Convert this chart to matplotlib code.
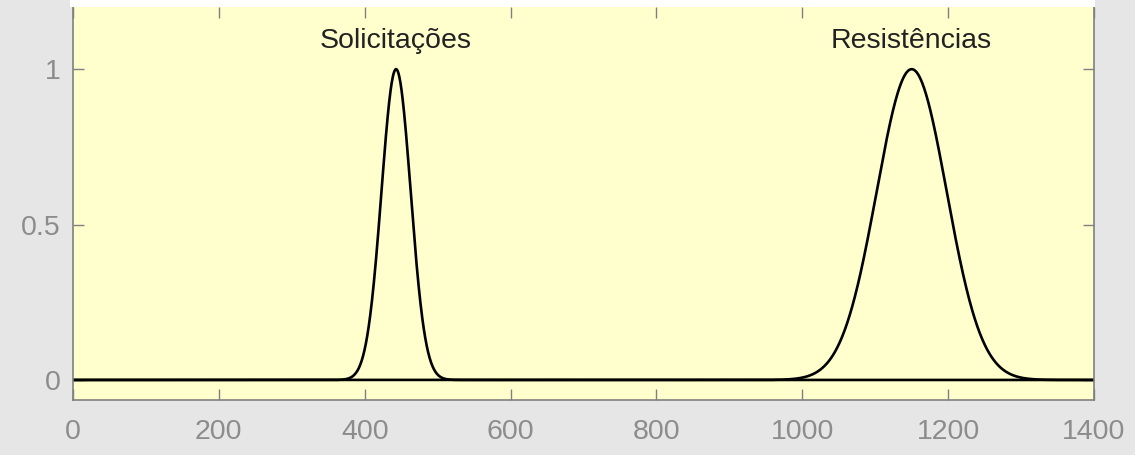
import numpy as np
import matplotlib
matplotlib.use("Agg")
import matplotlib.pyplot as plt
from matplotlib.patches import Rectangle

# Normal distributions (peak-normalised): load effects vs. resistances
labels = ["Solicitações", "Resistências"]
means = [443, 1150]
sigmas = [20, 48]
label_y = 1.068

x_ticks = [0, 200, 400, 600, 800, 1000, 1200, 1400]
y_ticks = [0, 0.5, 1]
x_range = (0, 1400)
y_range = (-0.0645, 1.2)

W, H, DPI = 1135, 455, 100
plt.rcParams["font.family"] = ["Liberation Sans", "DejaVu Sans"]
fig = plt.figure(figsize=(W / DPI, H / DPI), dpi=DPI, facecolor="#e6e6e6")

left, right, bottom, top = 73, 1094, 400, 7
ax = fig.add_axes([left / W, 1 - bottom / H, (right - left) / W, (bottom - top) / H])
ax.set_facecolor("#ffffcd")

x = np.linspace(x_range[0], x_range[1], 2801)
for mu, sd, lab in zip(means, sigmas, labels):
    y = np.exp(-0.5 * ((x - mu) / sd) ** 2)
    ax.plot(x, y, color="black", lw=1.9, solid_joinstyle="round")
    ax.text(mu, label_y, lab, ha="center", va="baseline", fontsize=20.5,
            color="#222222")

ax.set_xlim(*x_range)
ax.set_ylim(*y_range)
ax.set_xticks(x_ticks)
ax.set_yticks(y_ticks)
ax.set_yticklabels(["0", "0.5", "1"])

ax.tick_params(axis="both", which="both", direction="in", length=8,
               width=1.0, color="#808080", labelcolor="#8c8c8c",
               labelsize=20.5, top=True, right=True)
ax.tick_params(axis="x", pad=14)
ax.tick_params(axis="y", pad=9)
for side, sp in ax.spines.items():
    sp.set_color("#808080")
    sp.set_linewidth(1.2)
ax.spines["top"].set_visible(False)

# white strip over the top edge of the plotting area
fig.patches.append(Rectangle((70 / W, 1 - top / H), (right - 70 + 1) / W, top / H,
                             transform=fig.transFigure, facecolor="white",
                             edgecolor="none", zorder=10))

fig.savefig("out.png", dpi=DPI, facecolor=fig.get_facecolor())
